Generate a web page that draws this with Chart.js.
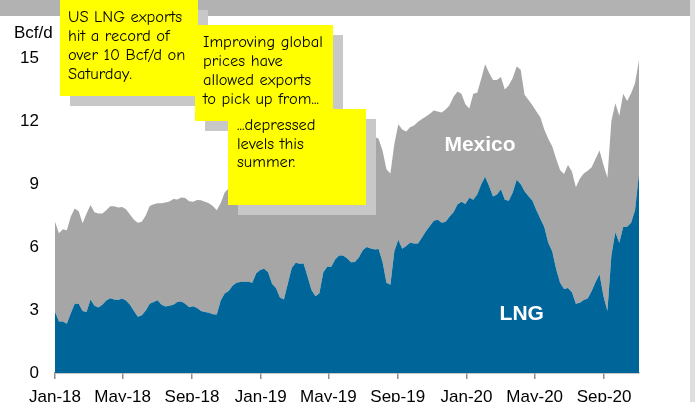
<!DOCTYPE html>
<html>
<head>
<meta charset="utf-8">
<script src="https://cdn.jsdelivr.net/npm/chart.js@4.4.1/dist/chart.umd.min.js"></script>
<style>
  html, body { margin: 0; padding: 0; background: #fff; }
  #wrap { position: relative; width: 695px; height: 402px; overflow: hidden; }
  #topBand { position: absolute; left: 0; top: 0; width: 690px; height: 16px; background: #b2b2b2; }
  #sideBand { position: absolute; left: 690px; top: 0; width: 5px; height: 402px; background: #dedede; }
  canvas { position: absolute; left: 0; top: 0; }
  .note {
    position: absolute;
    width: 130px;
    height: 89px;
    padding: 7px 0 0 8px;
    background: #ffff00;
    box-shadow: 10px 10px 0 #c8c8c8;
    font-family: "Comic Sans MS", "Comic Neue", "DejaVu Sans Condensed", sans-serif;
    font-size: 16.5px;
    line-height: 19px;
    color: #000;
    white-space: nowrap;
  }
</style>
</head>
<body>
<div id="wrap">
  <div id="topBand"></div>
  <div id="sideBand"></div>
  <canvas id="chart" width="695" height="402"></canvas>
  <div class="note" style="left:60px; top:0px;">US LNG exports<br>hit a record of<br>over 10 Bcf/d on<br>Saturday.</div>
  <div class="note" style="left:195px; top:25px;">Improving global<br>prices have<br>allowed exports<br>to pick up from...</div>
  <div class="note" style="left:228px; top:109px; line-height:18.5px; padding-left:9px; width:129px;">...depressed<br>levels this<br>summer.</div>
</div>
<script>
// weekly averages, Bcf/d, first week starting Jan 1 2018
const lngExports = [
  2.92, 2.45, 2.45, 2.35, 2.85, 3.3, 3.3, 2.95, 2.9, 3.5,
  3.2, 3.12, 3.25, 3.45, 3.56, 3.5, 3.48, 3.55, 3.45, 3.25,
  2.95, 2.68, 2.75, 2.98, 3.3, 3.38, 3.47, 3.25, 3.17, 3.2,
  3.25, 3.38, 3.4, 3.3, 3.13, 3.18, 3.1, 2.95, 2.9, 2.87,
  2.8, 2.78, 3.45, 3.78, 3.9, 4.15, 4.3, 4.33, 4.35, 4.35,
  4.3, 4.75, 4.9, 4.97, 4.8, 4.25, 4.05, 3.6, 3.5, 4.25,
  5.0, 5.25, 5.2, 5.22, 4.6, 3.95, 3.65, 3.8, 4.8, 5.06,
  5.06, 5.4, 5.6, 5.6, 5.46, 5.27, 5.28, 5.5, 5.85, 6.0,
  5.93, 5.88, 5.9, 5.3, 4.3, 4.2, 5.8, 6.35, 5.92, 6.05,
  6.2, 6.17, 6.17, 6.45, 6.75, 7.0, 7.25, 7.3, 7.15, 7.2,
  7.45, 7.65, 8.02, 8.15, 8.05, 8.35, 8.25, 8.5, 8.98, 9.35,
  8.9, 8.4, 8.5, 8.75, 8.25, 8.2, 8.6, 9.2, 9.0, 8.65,
  8.42, 8.2, 7.75, 7.35, 6.95, 6.2, 5.8, 4.95, 4.3, 4.0,
  4.05, 3.85, 3.3, 3.35, 3.48, 3.55, 3.9, 4.33, 4.7, 3.65,
  2.95, 5.6, 6.7, 6.2, 6.95, 6.97, 7.15, 7.75, 9.5
];

const mexicoExports = [
  4.28, 4.2, 4.4, 4.45, 4.6, 4.53, 4.4, 4.18, 4.7, 4.5,
  4.45, 4.48, 4.35, 4.3, 4.38, 4.44, 4.4, 4.35, 4.35, 4.3,
  4.35, 4.48, 4.45, 4.52, 4.65, 4.65, 4.61, 4.83, 4.95, 4.97,
  5.03, 4.88, 4.96, 5.03, 5.05, 4.97, 5.14, 5.28, 5.26, 5.21,
  5.15, 4.97, 4.65, 4.82, 4.9, 4.75, 4.7, 4.72, 4.75, 4.85,
  4.95, 4.85, 4.8, 4.75, 4.8, 4.9, 4.95, 5.0, 5.05, 5.0,
  4.9, 4.85, 4.95, 5.0, 5.1, 5.15, 5.2, 5.2, 5.15, 5.2,
  5.3, 5.2, 5.1, 5.2, 5.34, 5.5, 5.55, 5.45, 5.2, 5.1,
  5.27, 5.37, 5.25, 5.3, 5.4, 5.3, 5.1, 5.5, 5.68, 5.45,
  5.5, 5.61, 5.8, 5.65, 5.47, 5.35, 5.25, 5.15, 5.25, 5.35,
  5.3, 5.5, 5.38, 5.15, 4.75, 4.25, 5.05, 4.85, 5.02, 5.35,
  5.4, 5.55, 5.45, 5.35, 5.25, 5.5, 5.45, 5.4, 5.45, 4.6,
  4.58, 4.55, 4.7, 4.83, 4.65, 4.95, 5.0, 5.25, 5.37, 5.48,
  5.85, 5.75, 5.55, 5.9, 6.02, 6.08, 5.9, 5.87, 5.9, 6.25,
  6.35, 6.4, 6.15, 6.05, 6.35, 5.98, 6.17, 6.05, 5.4
];

// month labels on the x axis, placed at days since Jan 1 2018
const tickLabels = ["Jan-18", "May-18", "Sep-18", "Jan-19", "May-19", "Sep-19", "Jan-20", "May-20", "Sep-20"];
const tickDays = [0, 120, 243, 365, 485, 608, 730, 851, 974];
const yTicks = [0, 3, 6, 9, 12, 15];

const LNG_BLUE = "#006699";
const MEXICO_GRAY = "#a6a6a6";
const AXIS_GRAY = "#8f8f8f";
const FONT = "'Liberation Sans', Arial, sans-serif";

const toPoints = (arr) => arr.map((v, i) => ({ x: i * 7, y: v }));
const lastDay = (lngExports.length - 1) * 7;

// series names written inside the areas, in data coordinates
const areaLabels = [
  { text: "Mexico", day: 754, value: 10.85 },
  { text: "LNG", day: 828, value: 2.8 },
];

const labelPlugin = {
  id: "areaLabels",
  afterDatasetsDraw(chart) {
    const { ctx, scales } = chart;
    ctx.save();
    ctx.fillStyle = "#fff";
    ctx.font = "bold 21px " + FONT;
    ctx.textAlign = "center";
    ctx.textBaseline = "middle";
    areaLabels.forEach((l) => {
      ctx.fillText(l.text, scales.x.getPixelForValue(l.day), scales.y.getPixelForValue(l.value));
    });
    // unit label above the value axis
    ctx.fillStyle = "#000";
    ctx.font = "17px " + FONT;
    ctx.textAlign = "left";
    ctx.textBaseline = "alphabetic";
    ctx.fillText("Bcf/d", 14, 38);
    ctx.restore();
  },
};

const ctx = document.getElementById("chart");

new Chart(ctx, {
  type: "line",
  data: {
    datasets: [
      {
        label: "LNG",
        data: toPoints(lngExports),
        backgroundColor: LNG_BLUE,
        borderWidth: 0,
        fill: "origin",
      },
      {
        label: "Mexico",
        data: toPoints(mexicoExports),
        backgroundColor: MEXICO_GRAY,
        borderWidth: 0,
        fill: "-1",
      },
    ],
  },
  options: {
    responsive: false,
    animation: false,
    layout: { padding: { top: 58, right: 56, bottom: 0, left: 0 } },
    elements: { point: { radius: 0 }, line: { tension: 0 } },
    plugins: { legend: { display: false }, tooltip: { enabled: false } },
    scales: {
      x: {
        type: "linear",
        min: 0,
        max: lastDay,
        afterBuildTicks(scale) {
          scale.ticks = tickDays.map((d) => ({ value: d }));
        },
        afterFit(scale) {
          scale.height = 29;
        },
        ticks: {
          autoSkip: false,
          maxRotation: 0,
          padding: 8,
          color: "#000",
          font: { size: 17, family: FONT },
          callback: (value) => tickLabels[tickDays.indexOf(value)],
        },
        grid: { drawOnChartArea: false, drawTicks: true, tickLength: 6, color: AXIS_GRAY, lineWidth: 1.5 },
        border: { color: AXIS_GRAY, width: 1.5 },
      },
      y: {
        stacked: true,
        min: 0,
        max: 15,
        afterBuildTicks(scale) {
          scale.ticks = yTicks.map((v) => ({ value: v }));
        },
        afterFit(scale) {
          scale.width = 55;
        },
        ticks: {
          padding: 16,
          color: "#000",
          font: { size: 17, family: FONT },
        },
        grid: { display: false, drawTicks: false },
        border: { display: false },
      },
    },
  },
  plugins: [labelPlugin],
});
</script>
</body>
</html>
